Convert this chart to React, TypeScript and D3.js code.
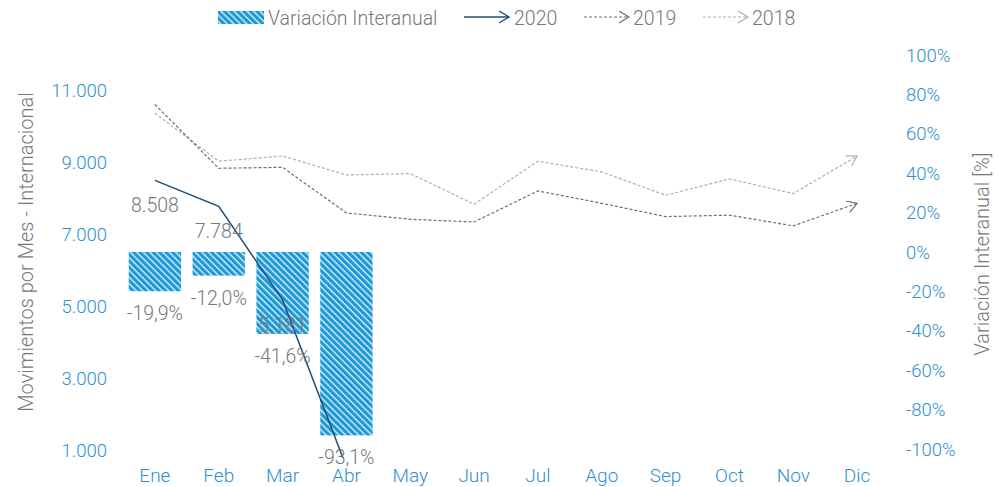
import React from "react";
import * as d3 from "d3";

const months = ["Ene", "Feb", "Mar", "Abr", "May", "Jun", "Jul", "Ago", "Sep", "Oct", "Nov", "Dic"];
const values2020 = [8508, 7784, 5181, 524];
const values2019 = [10622, 8845, 8872, 7600, 7425, 7350, 8215, 7870, 7500, 7540, 7240, 7870];
const values2018 = [10380, 9042, 9189, 8660, 8697, 7844, 9042, 8744, 8094, 8549, 8140, 9189];
const variation = [-19.9, -12.0, -41.6, -93.1];
const leftTicks = [1000, 3000, 5000, 7000, 9000, 11000];
const rightTicks = [-100, -80, -60, -40, -20, 0, 20, 40, 60, 80, 100];

const W = 1000;
const H = 487;
const FONT = "Roboto, 'Open Sans', sans-serif";
const BLUE_TEXT = "#2f8fd0";
const GRAY_TEXT = "#777777";

const locale = d3.formatLocale({ decimal: ",", thousands: ".", grouping: [3], currency: ["", ""], minus: "-" });
const fmtInt = locale.format(",d");
const fmtPct = locale.format(".1f");

export default function App() {
  const x = d3.scaleBand<string>().domain(months).range([123, 889]).paddingInner(0.18).paddingOuter(0.09);
  const yL = d3.scaleLinear().domain([1000, 12000]).range([450, 55]);
  const yR = d3.scaleLinear().domain([-100, 100]).range([449, 55]);
  const cx = (m: string) => (x(m) as number) + x.bandwidth() / 2;

  const line = d3
    .line<number>()
    .x((_, i) => cx(months[i]))
    .y((d) => yL(d));

  return (
    <svg width={W} height={H} style={{ position: "absolute", left: 0, top: 0 }} fontFamily={FONT}>
      <defs>
        <pattern id="stripes" patternUnits="userSpaceOnUse" width="4.6" height="4.6" patternTransform="rotate(-45)">
          <rect width="4.6" height="4.6" fill="#1a97d6" />
          <line x1="1.2" y1="0" x2="1.2" y2="4.6" stroke="#ffffff" strokeOpacity="0.85" strokeWidth="1.4" />
        </pattern>
        <marker id="arrDark" markerUnits="userSpaceOnUse" markerWidth="14" markerHeight="14" refX="11" refY="6" orient="auto">
          <path d="M1,0 L11,6 L1,12" fill="none" stroke="#6e6e6e" strokeWidth="1.2" />
        </marker>
        <marker id="arrLight" markerUnits="userSpaceOnUse" markerWidth="14" markerHeight="14" refX="11" refY="6" orient="auto">
          <path d="M1,0 L11,6 L1,12" fill="none" stroke="#aeaeae" strokeWidth="1.2" />
        </marker>
        <marker id="arrNavy" markerUnits="userSpaceOnUse" markerWidth="14" markerHeight="14" refX="11" refY="6" orient="auto">
          <path d="M1,0 L11,6 L1,12" fill="none" stroke="#1f4e7a" strokeWidth="1.4" />
        </marker>
        <clipPath id="plotClip">
          <rect x={100} y={40} width={820} height={418} />
        </clipPath>
      </defs>

      {/* Legend */}
      <g fontSize={19.5} fontWeight={300} fill={GRAY_TEXT}>
        <rect x={218} y={11} width={46} height={13} fill="url(#stripes)" />
        <text x={268} y={24.5}>Variación Interanual</text>
        <line x1={464} y1={17} x2={509} y2={17} stroke="#1f4e7a" strokeWidth={1.4} markerEnd="url(#arrNavy)" />
        <text x={514} y={24.5}>2020</text>
        <line x1={584} y1={17} x2={629} y2={17} stroke="#6e6e6e" strokeWidth={1.1} strokeDasharray="3,2" markerEnd="url(#arrDark)" />
        <text x={633} y={24.5}>2019</text>
        <line x1={703} y1={17} x2={748} y2={17} stroke="#aeaeae" strokeWidth={1.1} strokeDasharray="3,2" markerEnd="url(#arrLight)" />
        <text x={752} y={24.5}>2018</text>
      </g>

      {/* Left axis */}
      <g fontSize={18.5} fontWeight={300} fill={BLUE_TEXT} textAnchor="end">
        {leftTicks.map((t) => (
          <text key={t} x={107} y={yL(t) + 6.5}>
            {fmtInt(t)}
          </text>
        ))}
      </g>
      <text
        transform={`translate(33,${252}) rotate(-90)`}
        textAnchor="middle"
        fontSize={20}
        fontWeight={300}
        fill={GRAY_TEXT}
      >
        Movimientos por Mes - Internacional
      </text>

      {/* Right axis */}
      <g fontSize={18.5} fontWeight={300} fill={BLUE_TEXT} textAnchor="start">
        {rightTicks.map((t) => (
          <text key={t} x={906} y={yR(t) + 6.5}>
            {`${t}%`}
          </text>
        ))}
      </g>
      <text
        transform={`translate(989,${254}) rotate(-90)`}
        textAnchor="middle"
        fontSize={20}
        fontWeight={300}
        fill={GRAY_TEXT}
      >
        Variación Interanual [%]
      </text>

      {/* Month labels */}
      <g fontSize={19} fontWeight={300} fill={BLUE_TEXT} textAnchor="middle">
        {months.map((m) => (
          <text key={m} x={cx(m)} y={482}>
            {m}
          </text>
        ))}
      </g>

      {/* Bars */}
      {variation.map((v, i) => (
        <rect
          key={i}
          x={x(months[i]) as number}
          y={yR(0)}
          width={x.bandwidth()}
          height={yR(v) - yR(0)}
          fill="url(#stripes)"
        />
      ))}

      {/* Lines */}
      <path d={line(values2018) as string} fill="none" stroke="#aeaeae" strokeWidth={1.2} strokeDasharray="3,2" markerEnd="url(#arrLight)" />
      <path d={line(values2019) as string} fill="none" stroke="#6e6e6e" strokeWidth={1.2} strokeDasharray="3,2" markerEnd="url(#arrDark)" />
      <g clipPath="url(#plotClip)">
        <path d={line(values2020) as string} fill="none" stroke="#1f4e7a" strokeWidth={1.5} />
      </g>

      {/* Data labels */}
      <g fontSize={19.5} fontWeight={300} fill={GRAY_TEXT} textAnchor="middle">
        {values2020.slice(0, 3).map((v, i) => (
          <text key={i} x={cx(months[i])} y={yL(v) + 32}>
            {fmtInt(v)}
          </text>
        ))}
        {variation.map((v, i) => (
          <text key={i} x={cx(months[i])} y={yR(v) + 29}>
            {`${fmtPct(v)}%`}
          </text>
        ))}
      </g>
    </svg>
  );
}
